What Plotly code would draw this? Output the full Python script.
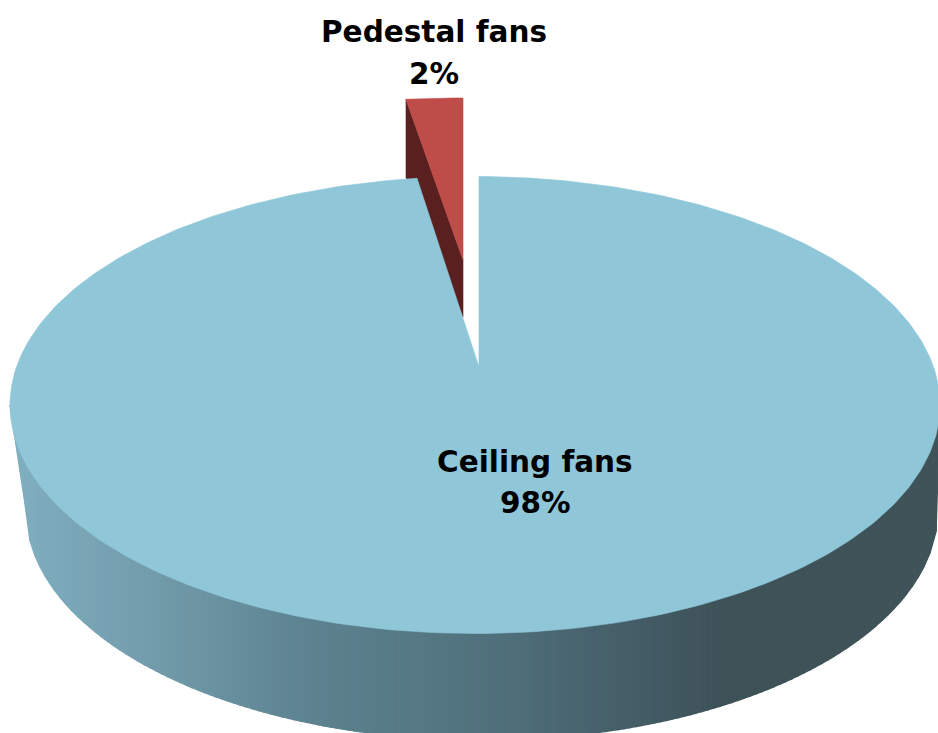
import numpy as np
import plotly.graph_objects as go

# Data
categories = ["Ceiling fans", "Pedestal fans"]
shares = [98, 2]
name_y = [462, 32]
share_y = [503, 74]
label_x = [535, 434]

# Colours
top_colour = "#8FC7D9"
red_colour = "#BE4C49"
dark_red = "#5A201F"
wall_stop_x = [15, 150, 300, 500, 650, 720, 938]
wall_stop_rgb = [(128, 175, 192), (115, 156, 172), (94, 132, 145),
                 (79, 112, 123), (67, 91, 100), (62, 82, 88), (63, 83, 89)]

# Projection of the 3-D pie on to the page (pixel space)
W, H = 938, 733
cx, cy, ax, by = 475.0, 405.0, 465.0, 228.5      # rim of the top face
bx0, by0, bax, bby = 482.0, 510.0, 456.0, 230.0  # rim of the wall's foot
apex = (479.0, 367.0)
ray_x, ray_y = 494.0, 190.0


def rim_point(t):
    """Where the ray for pie angle t (clockwise from 12 o'clock) meets the rim."""
    dx, dy = ray_x * np.sin(t), -ray_y * np.cos(t)
    px, py = (apex[0] - cx) / ax, (apex[1] - cy) / by
    qx, qy = dx / ax, dy / by
    A = qx * qx + qy * qy
    B = 2 * (px * qx + py * qy)
    C = px * px + py * py - 1
    s = (-B + np.sqrt(B * B - 4 * A * C)) / (2 * A)
    return apex[0] + s * dx, apex[1] + s * dy


fig = go.Figure()


def poly(xs, ys, colour, lw=0.6):
    fig.add_trace(go.Scatter(x=list(xs), y=list(ys), mode="lines", fill="toself",
                             fillcolor=colour, line=dict(color=colour, width=lw),
                             hoverinfo="skip", showlegend=False))


# Pedestal slice (exploded)
ped_sweep = np.radians(shares[1] / sum(shares) * 360)
ped_apex = (463.0, 260.0)
ped_rx, ped_ry = 455.0, 162.0
ped_apex_h, ped_rim_h = 57.0, 78.0
ts = np.linspace(-ped_sweep, 0, 12)
rim_x = ped_apex[0] + ped_rx * np.sin(ts)
rim_y = ped_apex[1] - ped_ry * np.cos(ts)
poly([rim_x[0], rim_x[0], ped_apex[0], ped_apex[0], rim_x[0]],
     [rim_y[0], rim_y[0] + ped_rim_h, ped_apex[1] + ped_apex_h, ped_apex[1], rim_y[0]],
     dark_red)
poly(list(rim_x) + [ped_apex[0], rim_x[0]], list(rim_y) + [ped_apex[1], rim_y[0]], red_colour)


# Wall of the large slice, as thin vertical strips for the gradient
def foot_y(x):
    left, right = bx0 - bax, bx0 + bax
    if x < left:
        return cy + (x - (cx - ax)) / (left - (cx - ax)) * (by0 - cy)
    if x > right:
        return by0 + (x - right) / ((cx + ax) - right) * (cy - by0)
    return by0 + bby * np.sqrt(max(0.0, 1 - ((x - bx0) / bax) ** 2))


edges = np.concatenate([np.linspace(cx - ax, 60, 11), np.arange(66, 940, 6.0), [cx + ax]])
for x0, x1 in zip(edges[:-1], edges[1:]):
    mid = (x0 + x1) / 2
    rgb = [np.interp(mid, wall_stop_x, [c[i] for c in wall_stop_rgb]) for i in range(3)]
    colour = "rgb(%d,%d,%d)" % tuple(int(round(v)) for v in rgb)
    poly([x0, x1, x1, x0, x0], [cy, cy, foot_y(x1), foot_y(x0), cy], colour, lw=1.5)

# Top face of the large slice
sweep = np.radians(shares[0] / sum(shares) * 360)
pts = [rim_point(t) for t in np.linspace(0, sweep, 361)]
poly([apex[0]] + [p[0] for p in pts] + [apex[0]],
     [apex[1]] + [p[1] for p in pts] + [apex[1]], top_colour)

# Labels
label_font = dict(family="DejaVu Sans", size=29.5, color="#000000", weight="bold")
for name, share, lx, ny, sy in zip(categories, shares, label_x, name_y, share_y):
    fig.add_annotation(x=lx, y=ny, text=name, showarrow=False, font=label_font,
                       xanchor="center", yanchor="middle")
    fig.add_annotation(x=lx, y=sy, text=f"{share}%", showarrow=False, font=label_font,
                       xanchor="center", yanchor="middle")

fig.update_layout(width=W, height=H, margin=dict(l=0, r=0, t=0, b=0),
                  paper_bgcolor="white", plot_bgcolor="white", showlegend=False,
                  xaxis=dict(range=[0, W], visible=False, fixedrange=True),
                  yaxis=dict(range=[H, 0], visible=False, fixedrange=True))
fig.write_html("out.html", config=dict(displayModeBar=False),
               post_script="document.body.style.margin='0';"
                           "document.documentElement.style.overflow='hidden';")
